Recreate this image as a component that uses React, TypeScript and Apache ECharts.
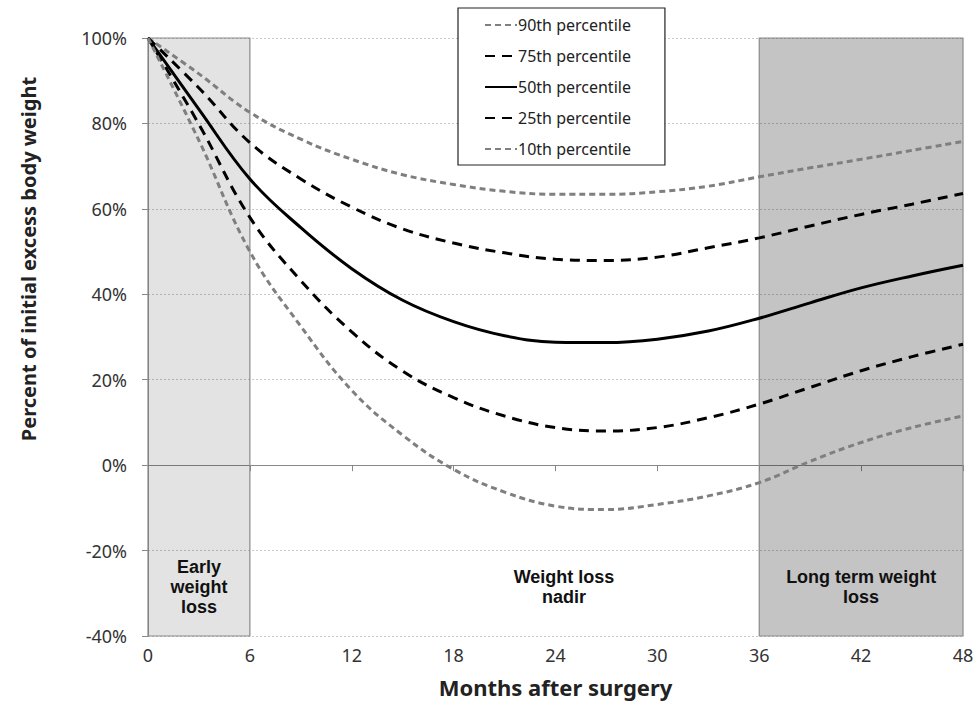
import React, { useEffect, useRef } from "react";
import * as echarts from "echarts";

const months = [0, 3, 6, 9, 12, 15, 18, 21, 24, 27, 30, 33, 36, 39, 42, 45, 48];
const p90 = [100, 91.6, 82.6, 76.3, 71.6, 68, 65.7, 64.1, 63.4, 63.4, 64, 65.3, 67.5, 69.6, 71.6, 73.7, 75.8];
const p75 = [100, 88.3, 75.5, 67, 60.4, 55.3, 52, 49.7, 48.2, 47.9, 48.7, 50.9, 53.2, 56, 58.7, 61.1, 63.6];
const p50 = [100, 83.3, 67, 55.6, 46, 38.6, 33.6, 30.3, 28.8, 28.7, 29.5, 31.4, 34.4, 38, 41.5, 44.3, 46.8];
const p25 = [100, 79.8, 58, 43.2, 31.2, 22, 15.8, 11.5, 8.8, 8.0, 8.8, 11.1, 14.3, 18.2, 22.1, 25.4, 28.3];
const p10 = [100, 76, 50, 32.5, 17.5, 7, -1, -6.3, -9.6, -10.4, -9.2, -7.2, -4.1, 0.9, 5.3, 8.8, 11.5];

const seriesNames = ["90th percentile", "75th percentile", "50th percentile", "25th percentile", "10th percentile"];
const phaseLabels = ["Early\nweight\nloss", "Weight loss\nnadir", "Long term weight\nloss"];
const xTicks = { min: 0, max: 48, interval: 6 };
const yTicks = { min: -40, max: 100, interval: 20 };
const yTitle = "Percent of initial excess body weight";
const xTitle = "Months after surgery";

const labelFont = "'Liberation Sans', Arial, sans-serif";
const axisFont = "'Noto Sans', 'Open Sans', sans-serif";

export default function App() {
  const ref = useRef<HTMLDivElement>(null);
  useEffect(() => {
    if (!ref.current) return;
    const chart = echarts.init(ref.current, null, { renderer: "svg" });
    const pairs = (vals: number[]) => months.map((m, i) => [m, vals[i]]);
    const gray = "#7f7f7f";
    const black = "#000000";
    const mk = (name: string, vals: number[], color: string, type: any) => ({
      name,
      type: "line",
      data: pairs(vals),
      smooth: 0.4,
      symbol: "none",
      z: 3,
      lineStyle: { color, width: 3, type },
      itemStyle: { color },
    });
    const areaLabel = (text: string) => ({
      show: true,
      formatter: text,
      position: ["50%", "91.8%"],
      align: "center",
      verticalAlign: "middle",
      fontFamily: labelFont,
      fontWeight: "bold",
      fontSize: 18,
      lineHeight: 20,
      color: "#111",
    });
    chart.setOption({
      animation: false,
      backgroundColor: "#ffffff",
      grid: { left: 148, right: 16, top: 38, bottom: 79 },
      legend: {
        orient: "vertical",
        left: 458,
        top: 8,
        data: seriesNames,
        backgroundColor: "#ffffff",
        borderColor: "#222",
        borderWidth: 1.2,
        borderRadius: 0,
        padding: [9, 34, 8, 26],
        itemWidth: 32,
        itemHeight: 14,
        itemGap: 15,
        itemStyle: { opacity: 0 },
        textStyle: { fontFamily: axisFont, fontSize: 16, color: "#222", lineHeight: 16, padding: [0, 0, 0, -4] },
      },
      graphic: [
        {
          type: "text",
          x: 28,
          y: 259,
          rotation: Math.PI / 2,
          style: {
            text: yTitle,
            fontFamily: axisFont,
            fontWeight: "bold",
            fontSize: 20,
            fill: "#222",
            textAlign: "center",
            textVerticalAlign: "middle",
          },
        },
      ],
      xAxis: {
        type: "value",
        ...xTicks,
        name: xTitle,
        nameLocation: "middle",
        nameGap: 40,
        nameTextStyle: { fontFamily: axisFont, fontWeight: "bold", fontSize: 22, color: "#222" },
        axisLine: { show: true, lineStyle: { color: "#888", width: 1 } },
        axisTick: { show: true, length: 6, lineStyle: { color: "#888" } },
        axisLabel: { fontFamily: axisFont, fontSize: 18, color: "#333", margin: 10 },
        splitLine: { show: false },
      },
      yAxis: {
        type: "value",
        ...yTicks,
        axisLine: { show: true, lineStyle: { color: "#888", width: 1 } },
        axisTick: { show: true, length: 6, lineStyle: { color: "#888" } },
        axisLabel: { fontFamily: axisFont, fontSize: 18, color: "#333", margin: 21, formatter: "{value}%" },
        splitLine: { show: true, lineStyle: { color: "#c8c8c8", type: [2, 2], width: 1 } },
      },
      series: [
        {
          name: "phases",
          type: "line",
          data: [],
          z: 1,
          markArea: {
            silent: true,
            data: [
              [
                { xAxis: 0, yAxis: yTicks.min, itemStyle: { color: "rgba(0,0,0,0.11)", borderColor: "#8a8a8a", borderWidth: 1.2 }, label: areaLabel(phaseLabels[0]) },
                { xAxis: 6, yAxis: yTicks.max },
              ],
              [
                { xAxis: 13, yAxis: yTicks.min, itemStyle: { color: "rgba(0,0,0,0)", borderWidth: 0 }, label: areaLabel(phaseLabels[1]) },
                { xAxis: 36, yAxis: yTicks.max },
              ],
              [
                { xAxis: 36, yAxis: yTicks.min, itemStyle: { color: "rgba(0,0,0,0.23)", borderColor: "#8a8a8a", borderWidth: 1.2 }, label: areaLabel(phaseLabels[2]) },
                { xAxis: 48, yAxis: yTicks.max },
              ],
            ],
          },
        },
        mk(seriesNames[0], p90, gray, [6, 4]),
        mk(seriesNames[1], p75, black, [10, 7]),
        mk(seriesNames[2], p50, black, "solid"),
        mk(seriesNames[3], p25, black, [10, 7]),
        mk(seriesNames[4], p10, gray, [6, 4]),
      ],
    });
    return () => chart.dispose();
  }, []);
  return <div ref={ref} style={{ position: "fixed", left: 0, top: 0, width: 979, height: 715 }} />;
}
